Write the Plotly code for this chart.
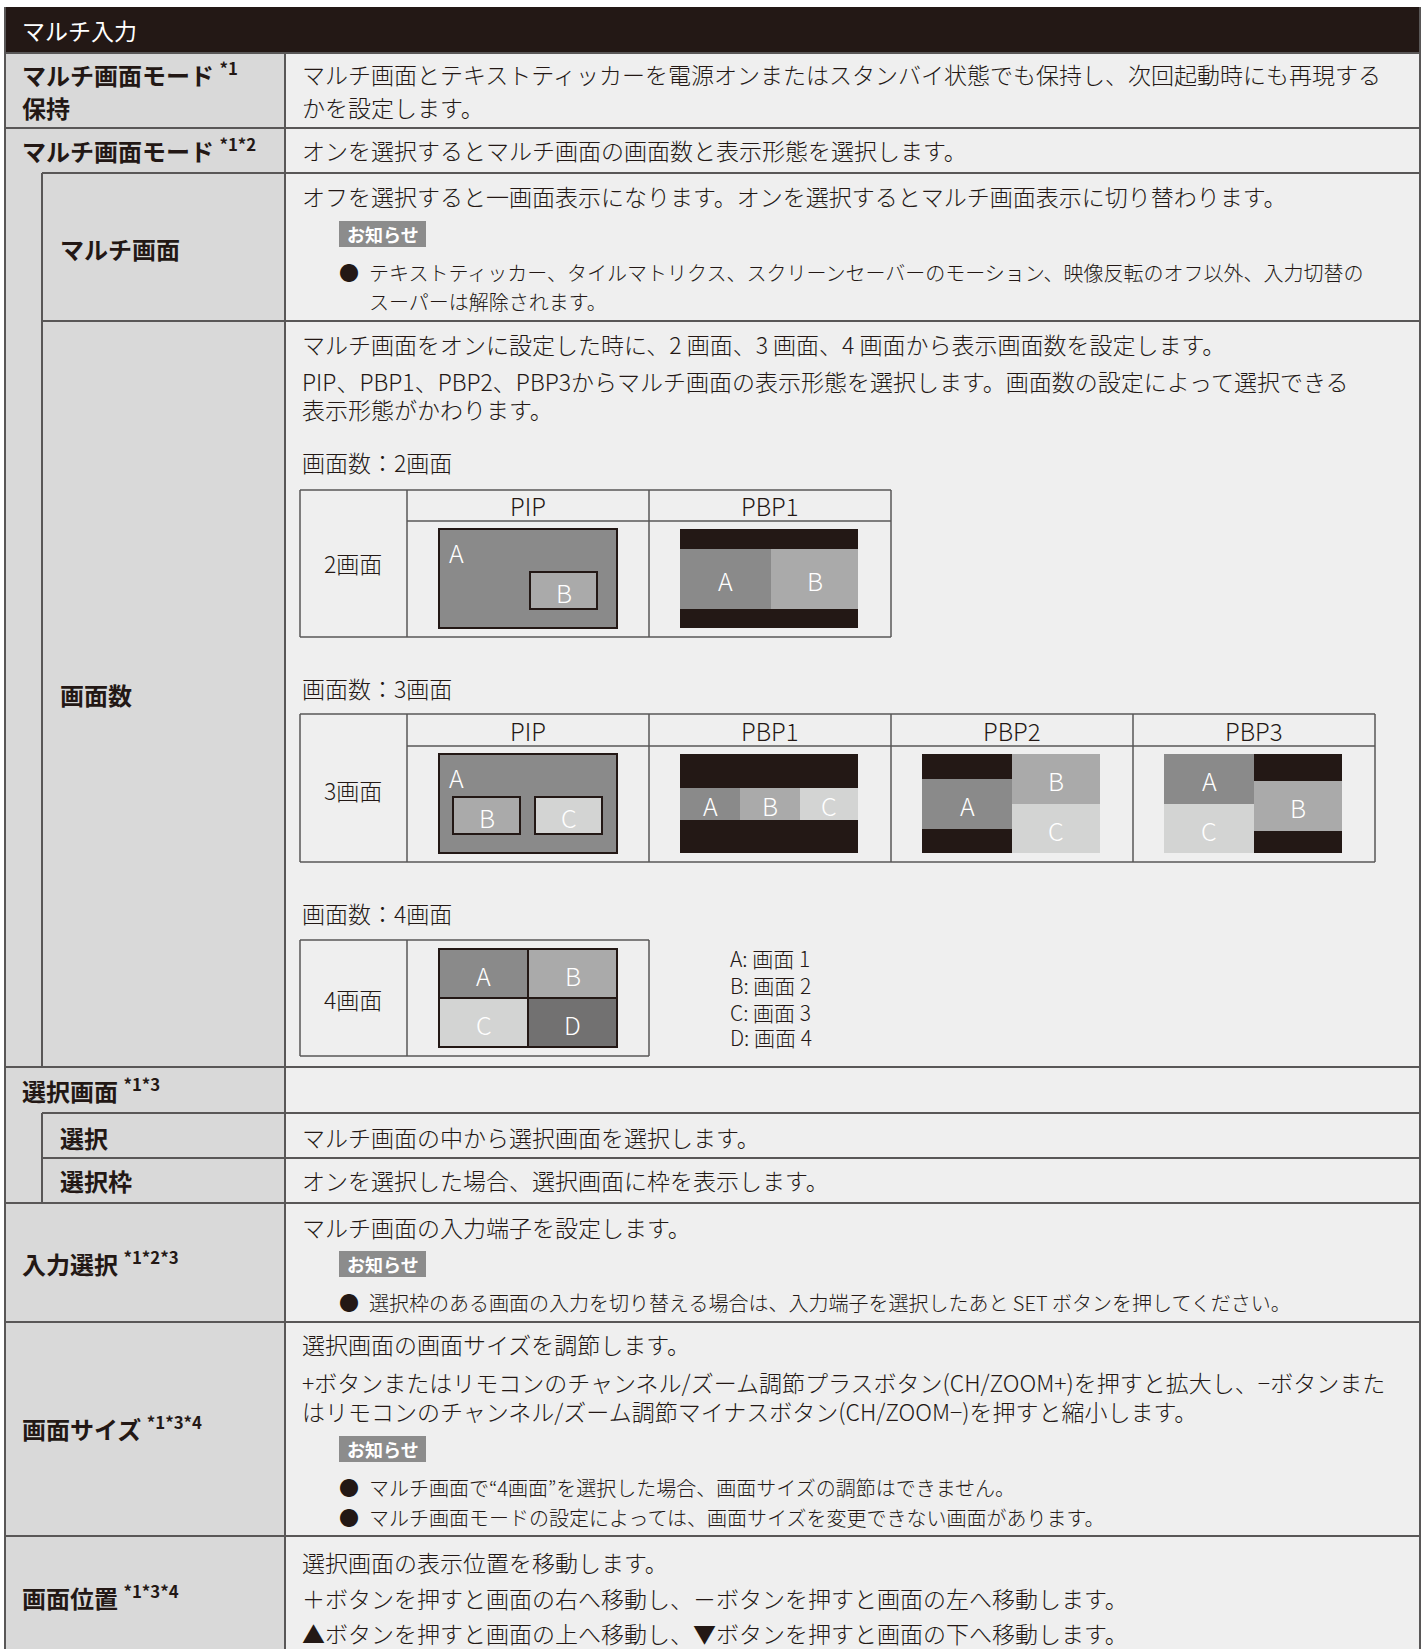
import plotly.graph_objects as go

# ---------------- content (text data) ----------------
HEADER = "マルチ入力"

LEFT_LABELS = [
    "マルチ画面モード <sup>*1</sup>", "保持",
    "マルチ画面モード <sup>*1*2</sup>",
    "マルチ画面", "画面数",
    "選択画面 <sup>*1*3</sup>", "選択", "選択枠",
    "入力選択 <sup>*1*2*3</sup>",
    "画面サイズ <sup>*1*3*4</sup>",
    "画面位置 <sup>*1*3*4</sup>",
]

DESCRIPTIONS = [
    "マルチ画面とテキストティッカーを電源オンまたはスタンバイ状態でも保持し、次回起動時にも再現する",
    "かを設定します。",
    "オンを選択するとマルチ画面の画面数と表示形態を選択します。",
    "オフを選択すると一画面表示になります。オンを選択するとマルチ画面表示に切り替わります。",
    "マルチ画面をオンに設定した時に、2 画面、3 画面、4 画面から表示画面数を設定します。",
    "PIP、PBP1、PBP2、PBP3からマルチ画面の表示形態を選択します。画面数の設定によって選択できる",
    "表示形態がかわります。",
    "画面数：2画面", "画面数：3画面", "画面数：4画面",
    "マルチ画面の中から選択画面を選択します。",
    "オンを選択した場合、選択画面に枠を表示します。",
    "マルチ画面の入力端子を設定します。",
    "選択画面の画面サイズを調節します。",
    "+ボタンまたはリモコンのチャンネル/ズーム調節プラスボタン(CH/ZOOM+)を押すと拡大し、−ボタンまた",
    "はリモコンのチャンネル/ズーム調節マイナスボタン(CH/ZOOM−)を押すと縮小します。",
    "選択画面の表示位置を移動します。",
    "＋ボタンを押すと画面の右へ移動し、－ボタンを押すと画面の左へ移動します。",
    "▲ボタンを押すと画面の上へ移動し、▼ボタンを押すと画面の下へ移動します。",
]

NOTE_TITLE = "お知らせ"
NOTES = [
    "テキストティッカー、タイルマトリクス、スクリーンセーバーのモーション、映像反転のオフ以外、入力切替の",
    "スーパーは解除されます。",
    "選択枠のある画面の入力を切り替える場合は、入力端子を選択したあと SET ボタンを押してください。",
    "マルチ画面で“4画面”を選択した場合、画面サイズの調節はできません。",
    "マルチ画面モードの設定によっては、画面サイズを変更できない画面があります。",
]

SCREEN_COUNTS = ["2画面", "3画面", "4画面"]
MODES_2 = ["PIP", "PBP1"]
MODES_3 = ["PIP", "PBP1", "PBP2", "PBP3"]
LEGEND = ["A: 画面 1", "B: 画面 2", "C: 画面 3", "D: 画面 4"]

# ---------------- styles ----------------
W, H = 1426, 1649
FONT = "Noto Sans CJK JP"
DARK = "#231815"
LEFT_BG = "#d9d9d9"
RIGHT_BG = "#efefef"
BORDER = "#595757"
BADGE = "#8c8c8c"
SHADE = {"A": "#8a8a8a", "B": "#aaaaaa", "C": "#d3d4d3", "D": "#727171", "K": DARK}

shapes = []
annos = []


def rect(x0, y0, x1, y1, fill, lc=None, lw=0):
    shapes.append(dict(type="rect", xref="x", yref="y", x0=x0, y0=y0, x1=x1, y1=y1,
                       fillcolor=fill, line=dict(color=lc or fill, width=lw), layer="below"))


def line(x0, y0, x1, y1, color=BORDER, w=2):
    shapes.append(dict(type="line", xref="x", yref="y", x0=x0, y0=y0, x1=x1, y1=y1,
                       line=dict(color=color, width=w), layer="below"))


def text(x, y, s, size=23, color=DARK, bold=False, anchor="left", weight=300):
    f = dict(family=FONT, size=size, color=color, weight=700 if bold else weight)
    annos.append(dict(x=x, y=y, xref="x", yref="y", text=s, showarrow=False,
                      xanchor=anchor, yanchor="middle", font=f, borderpad=0))


# ---------------- table frame ----------------
X0, XS, XL, XR = 5, 42, 285, 1420
rect(X0, 53, XL, H + 5, LEFT_BG)
rect(XL, 53, XR, H + 5, RIGHT_BG)
rect(X0, 7, XR, 53, DARK)
text(21, 30, HEADER, 23, "white", weight=400)

for y, xs in [(53, X0), (128, X0), (173, XS), (321, XS), (1067, X0), (1113, XS),
              (1158, XS), (1203, X0), (1322, X0), (1536, X0)]:
    line(xs, y, XR, y)
line(X0, 7, X0, H + 5)
line(XR, 7, XR, H + 5)
line(XL, 53, XL, H + 5)
line(XS, 173, XS, 1067)
line(XS, 1113, XS, 1203)

# left labels
LEFT_POS = [(21, 74), (21, 107), (21, 150), (59, 248), (59, 694), (21, 1090),
            (59, 1137), (59, 1180), (21, 1263), (21, 1428), (21, 1597)]
for lab, (x, y) in zip(LEFT_LABELS, LEFT_POS):
    text(x, y, lab, 24, DARK, bold=True)

# right descriptions
DESC_Y = [74, 107, 150, 196, 344, 381, 409, 462, 688, 913, 1137, 1180, 1227,
          1344, 1382, 1411, 1562, 1598, 1633]
for s, y in zip(DESCRIPTIONS, DESC_Y):
    text(301, y, s, 23)

# notes: badges & bullets
for y0 in [221, 1251, 1436]:
    rect(339, y0, 426, y0 + 26, BADGE)
    text(382.5, y0 + 13, NOTE_TITLE, 18, "white", bold=True, anchor="center")
NOTE_Y = [272, 301, 1302, 1487, 1517]
for i, (s, y) in enumerate(zip(NOTES, NOTE_Y)):
    if i != 1:
        text(338, y, "●", 20, weight=400)
    text(368, y, s, 20)

# ---------------- diagram tables ----------------
TL = 1.5


def table_frame(y0, y1, x1, header_y=None, col_x=()):
    line(300, y0, x1, y0, BORDER, TL)
    line(300, y1, x1, y1, BORDER, TL)
    line(300, y0, 300, y1, BORDER, TL)
    line(x1, y0, x1, y1, BORDER, TL)
    line(407, y0, 407, y1, BORDER, TL)
    if header_y:
        line(407, header_y, x1, header_y, BORDER, TL)
    for cx in col_x:
        line(cx, y0, cx, y1, BORDER, TL)


table_frame(490, 637, 891, 521, [649])
text(353, 563, SCREEN_COUNTS[0], 23, anchor="center")
for m, cx in zip(MODES_2, [528, 770]):
    text(cx, 505, m, 24, anchor="center")

table_frame(714, 862, 1375, 746, [649, 891, 1133])
text(353, 790, SCREEN_COUNTS[1], 23, anchor="center")
for m, cx in zip(MODES_3, [528, 770, 1012, 1254]):
    text(cx, 730, m, 24, anchor="center")

table_frame(940, 1056, 649)
text(353, 999, SCREEN_COUNTS[2], 23, anchor="center")

DIAGRAMS = {
    "PIP2": [("A", 0, 0, 178, 99, "A@tl", True), ("B", 91, 43, 158, 80, "B", True)],
    "PBP1_2": [("K", 0, 0, 178, 20, None, False), ("A", 0, 20, 91, 80, "A", False),
               ("B", 91, 20, 178, 80, "B", False), ("K", 0, 80, 178, 99, None, False)],
    "PIP3": [("A", 0, 0, 178, 99, "A@tl", True), ("B", 14, 43, 81, 80, "B", True),
             ("C", 96, 43, 163, 80, "C", True)],
    "PBP1_3": [("K", 0, 0, 178, 34, None, False), ("A", 0, 34, 60, 66, "A", False),
               ("B", 60, 34, 120, 66, "B", False), ("C", 120, 34, 178, 66, "C", False),
               ("K", 0, 66, 178, 99, None, False)],
    "PBP2_3": [("K", 0, 0, 90, 25, None, False), ("A", 0, 25, 90, 75, "A", False),
               ("K", 0, 75, 90, 99, None, False), ("B", 90, 0, 178, 50, "B", False),
               ("C", 90, 50, 178, 99, "C", False)],
    "PBP3_3": [("A", 0, 0, 90, 50, "A", False), ("C", 0, 50, 90, 99, "C", False),
               ("K", 90, 0, 178, 27, None, False), ("B", 90, 27, 178, 77, "B", False),
               ("K", 90, 77, 178, 99, None, False)],
    "QUAD": [("A", 0, 0, 89, 49, "A", True), ("B", 89, 0, 178, 49, "B", True),
             ("C", 0, 49, 89, 98, "C", True), ("D", 89, 49, 178, 98, "D", True)],
}
BOXES = [("PIP2", 439, 529), ("PBP1_2", 680, 529), ("PIP3", 439, 754),
         ("PBP1_3", 680, 754), ("PBP2_3", 922, 754), ("PBP3_3", 1164, 754),
         ("QUAD", 439, 949)]

for name, bx, by in BOXES:
    for key, x0, y0, x1, y1, lab, bd in DIAGRAMS[name]:
        if bd:
            rect(bx + x0, by + y0, bx + x1, by + y1, SHADE[key], DARK, 2)
        else:
            rect(bx + x0, by + y0, bx + x1, by + y1, SHADE[key])
        if lab:
            if lab.endswith("@tl"):
                text(bx + x0 + 17, by + y0 + 23, lab[0], 25, "white", anchor="center")
            else:
                text(bx + (x0 + x1) / 2, by + (y0 + y1) / 2 + 1, lab, 25, "white", anchor="center")

for s, y in zip(LEGEND, [958, 985, 1012, 1037]):
    text(729, y, s, 21)

fig = go.Figure()
fig.update_layout(
    width=W, height=H, margin=dict(l=0, r=0, t=0, b=0),
    paper_bgcolor="white", plot_bgcolor="white",
    xaxis=dict(range=[0, W], visible=False, fixedrange=True),
    yaxis=dict(range=[H, 0], visible=False, fixedrange=True),
    shapes=shapes, annotations=annos, showlegend=False,
)
fig.write_html("out.html", config={"displayModeBar": False},
               post_script="document.body.style.margin='0';document.body.style.padding='0';")
